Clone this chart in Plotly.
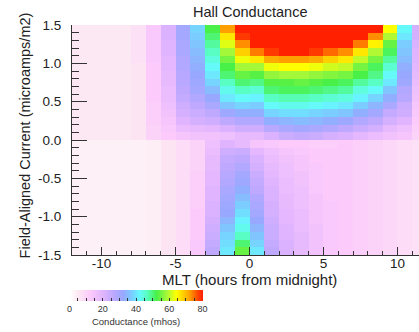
import numpy as np
import plotly.graph_objects as go

# MLT bin centres (hours from midnight) and field-aligned current bin centres
mlt = [-11.5, -10.5, -9.5, -8.5, -7.5, -6.5, -5.5, -4.5, -3.5, -2.5, -1.5, -0.5,
       0.5, 1.5, 2.5, 3.5, 4.5, 5.5, 6.5, 7.5, 8.5, 9.5, 10.5, 11.5]
fac = [-1.45, -1.35, -1.25, -1.15, -1.05, -0.95, -0.85, -0.75, -0.65, -0.55,
       -0.45, -0.35, -0.25, -0.15, -0.05,
       0.05, 0.15, 0.25, 0.35, 0.45, 0.55, 0.65, 0.75, 0.85, 0.95,
       1.05, 1.15, 1.25, 1.35, 1.45]

# Hall conductance (mhos), one list per MLT bin.
# neg_* : FAC from -1.45 up to -0.05 ; pos_* : FAC from 0.05 up to 1.45
neg_cols = [
    [3]*15, [3]*15, [3]*15, [3]*15, [3]*15,
    [4]*15,
    [6]*15,
    [8]*15,
    [13, 13, 12, 12, 12, 12, 11, 11, 11, 11, 11, 10, 10, 10, 10],
    [26, 25, 24, 23, 22, 21, 21, 20, 20, 19, 19, 18, 18, 17, 16],
    [40, 39, 38, 36, 34, 32, 31, 30, 29, 28, 27, 26, 25, 23, 20],
    [54, 50, 46, 43, 41, 39, 37, 35, 33, 31, 30, 28, 26, 24, 18],
    [40, 38, 36, 34, 32, 30, 29, 28, 26, 25, 24, 22, 21, 19, 14],
    [26, 25, 24, 24, 23, 22, 22, 21, 21, 20, 19, 18, 17, 16, 13],
    [21, 21, 20, 20, 19, 19, 18, 18, 17, 17, 16, 16, 15, 14, 12],
    [18, 18, 18, 17, 17, 17, 16, 16, 16, 15, 15, 14, 14, 13, 12],
    [15, 15, 15, 15, 14, 14, 14, 14, 13, 13, 13, 13, 12, 12, 11],
    [13, 13, 13, 13, 13, 13, 13, 12, 12, 12, 12, 12, 12, 12, 11],
    [12]*15, [11]*15, [10]*15, [9]*15, [8]*15, [7]*15,
]
pos_cols = [
    [5]*15, [5]*15, [5]*15, [5]*15,
    [6, 6, 6, 6, 6, 6, 6, 6, 6, 6, 7, 7, 7, 7, 7],
    [10, 10, 11, 11, 11, 12, 12, 12, 12, 12, 13, 13, 13, 13, 13],
    [12, 13, 14, 15, 16, 17, 17, 18, 18, 19, 19, 20, 20, 21, 21],
    [14, 17, 20, 22, 23, 25, 26, 27, 27, 28, 28, 29, 29, 30, 30],
    [15, 18, 22, 24, 26, 28, 30, 31, 32, 33, 34, 35, 36, 37, 38],
    [15, 19, 23, 26, 29, 32, 35, 38, 40, 42, 44, 46, 48, 50, 52],
    [16, 21, 26, 31, 36, 40, 43, 46, 50, 52, 55, 58, 62, 66, 72],
    [18, 23, 28, 33, 38, 42, 46, 50, 54, 58, 63, 68, 73, 78, 82],
    [18, 23, 28, 33, 37, 41, 45, 49, 53, 58, 66, 74, 82, 84, 85],
    [21, 27, 33, 38, 42, 46, 50, 53, 57, 63, 71, 78, 84, 86, 88],
    [24, 29, 34, 39, 43, 47, 51, 53, 58, 64, 72, 80, 86, 88, 90],
    [25, 30, 35, 39, 43, 47, 51, 54, 58, 64, 72, 80, 86, 88, 90],
    [24, 29, 34, 38, 42, 46, 50, 53, 57, 63, 71, 78, 85, 88, 90],
    [22, 28, 33, 37, 41, 45, 49, 52, 56, 61, 68, 75, 82, 86, 88],
    [21, 26, 31, 36, 40, 44, 48, 51, 55, 60, 66, 73, 80, 84, 86],
    [19, 24, 28, 33, 37, 41, 44, 48, 52, 55, 60, 66, 74, 80, 84],
    [17, 22, 26, 30, 34, 38, 42, 46, 49, 51, 55, 59, 65, 73, 81],
    [15, 18, 22, 25, 29, 33, 36, 40, 42, 45, 48, 51, 54, 59, 64],
    [14, 16, 20, 23, 24, 27, 28, 31, 32, 33, 35, 36, 37, 40, 42],
    [10, 11, 12, 13, 14, 15, 16, 17, 18, 19, 20, 20, 21, 22, 22],
]

x_ticks = [-10, -5, 0, 5, 10]
x_ticklabels = ['-10', '-5', '0', '5', '10']
y_ticks = [-1.5, -1.0, -0.5, 0.0, 0.5, 1.0, 1.5]
y_ticklabels = ['-1.5', '-1.0', '-0.5', '0.0', '0.5', '1.0', '1.5']
cb_ticks = list(range(0, 85, 5))
cb_ticklabels = [str(v) if v % 20 == 0 else '' for v in cb_ticks]

z = np.array([n + p for n, p in zip(neg_cols, pos_cols)]).T

colorscale = [
    [0.00, '#ffffff'],
    [0.0625, '#fce8f2'],
    [0.15, '#fccbfb'],
    [0.25, '#e0b4ff'],
    [0.33, '#bca8ff'],
    [0.40, '#98a8ff'],
    [0.47, '#78d0ff'],
    [0.52, '#66f8ff'],
    [0.58, '#58ffc0'],
    [0.65, '#48f048'],
    [0.73, '#a8f838'],
    [0.80, '#ffff00'],
    [0.90, '#ffa000'],
    [0.96, '#ff4800'],
    [1.00, '#ff2000'],
]

FONT = 'Liberation Sans, Arial, sans-serif'
INK = '#222222'

fig = go.Figure(go.Heatmap(
    x=mlt, y=fac, z=z, zmin=0, zmax=80, colorscale=colorscale,
    zsmooth=False, hoverinfo='skip',
    colorbar=dict(
        orientation='h', xref='container', yref='container',
        x=84 / 419, xanchor='left', y=(332 - 290) / 332, yanchor='top',
        len=133, lenmode='pixels', thickness=11, xpad=0, ypad=0,
        outlinewidth=0, ticks='inside', ticklen=3, tickcolor='#333',
        tickvals=cb_ticks, ticktext=cb_ticklabels,
        tickfont=dict(size=9, color='#333', family=FONT),
        title=dict(text='Conductance (mhos)', side='bottom',
                   font=dict(size=9.5, color='#333', family=FONT)),
    ),
))

fig.update_layout(
    width=419, height=332,
    margin=dict(l=72, r=0, t=25, b=77),
    paper_bgcolor='white', plot_bgcolor='white',
    font=dict(family=FONT, color=INK, size=13),
    xaxis=dict(range=[-12, 11.45], tickvals=x_ticks, ticktext=x_ticklabels,
               ticks='inside', ticklen=8, tickcolor='#333', tickwidth=1,
               minor=dict(dtick=1, ticks='inside', ticklen=4, tickcolor='#333'),
               showline=True, linecolor='#333', linewidth=1,
               showgrid=False, zeroline=False, ticklabelstandoff=-4,
               tickfont=dict(size=13.5, color=INK, family=FONT)),
    yaxis=dict(range=[-1.5, 1.5], tickvals=y_ticks, ticktext=y_ticklabels,
               ticks='inside', ticklen=15, tickcolor='#333', tickwidth=1,
               minor=dict(dtick=0.1, ticks='inside', ticklen=7, tickcolor='#333'),
               showline=True, linecolor='#333', linewidth=1,
               showgrid=False, zeroline=False, ticklabelstandoff=7,
               tickfont=dict(size=13.5, color=INK, family=FONT)),
    annotations=[
        dict(text='Hall Conductance', xref='x', x=0, yref='paper',
             y=1 + 13 / 230, yanchor='middle', showarrow=False,
             font=dict(size=14.5, color=INK, family=FONT)),
        dict(text='MLT (hours from midnight)', xref='x', x=0, yref='paper',
             y=-24 / 230, yanchor='middle', showarrow=False,
             font=dict(size=15, color=INK, family=FONT)),
        dict(text='Field-Aligned Current (microamps/m2)', xref='paper',
             x=(25 - 72) / 347, xanchor='center', yref='paper', y=0.52,
             textangle=-90, showarrow=False,
             font=dict(size=14.5, color=INK, family=FONT)),
    ],
)

fig.write_html('out.html')
